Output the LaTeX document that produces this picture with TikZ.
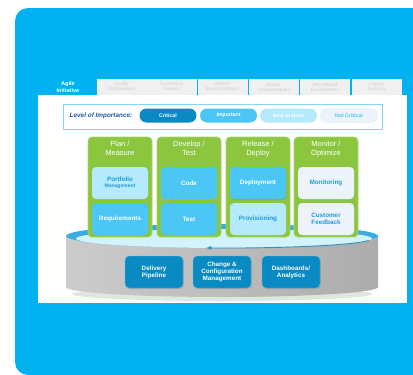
\documentclass[tikz,border=0pt]{standalone}
\usepackage{fontspec}
\setmainfont{Liberation Sans}
\usepackage{xcolor}
\usetikzlibrary{shadows,arrows.meta,positioning}

\definecolor{bgblue}{HTML}{00B2EF}
\definecolor{critblue}{HTML}{0A8AC2}
\definecolor{impblue}{HTML}{4CC6F5}
\definecolor{niceblue}{HTML}{B5E9FC}
\definecolor{notblue}{HTML}{EDF3FA}
\definecolor{txtblue}{HTML}{1E9AD8}
\definecolor{lvlblue}{HTML}{1F5C9E}
\definecolor{colgreen}{HTML}{8CC63F}
\definecolor{rimblue}{HTML}{3AABE0}
\definecolor{topcyan}{HTML}{D2F3FC}

\begin{document}
\begin{tikzpicture}[x=1pt,y=-1pt,>=latex,
   tabcell/.style={fill=gray!12,minimum width=50pt,minimum height=16pt,inner sep=0pt,
     align=center,text=gray!40,font=\fontsize{4.6}{5}\selectfont},
   pill/.style={rounded corners=7pt,minimum width=57pt,minimum height=14pt,inner sep=0pt,
     font=\bfseries\fontsize{5.2}{6}\selectfont},
   column/.style={fill=colgreen,draw=colgreen!75!white,line width=0.8pt,rounded corners=4pt,
     minimum width=64pt,minimum height=100pt},
   hdr/.style={text=white,align=center,font=\fontsize{7.5}{8.5}\selectfont},
   cell/.style={rounded corners=4pt,minimum width=56pt,minimum height=32pt,inner sep=1pt,
     align=center,font=\bfseries\fontsize{6.3}{7}\selectfont},
   impbox/.style={cell,fill=impblue,text=white},
   nicebox/.style={cell,fill=niceblue,text=txtblue},
   notbox/.style={cell,fill=notblue,text=txtblue},
   critbox/.style={cell,fill=critblue,text=white,minimum width=58pt,draw=critblue!60!white,
     drop shadow={opacity=0.35,shadow xshift=0.8pt,shadow yshift=-1pt}}]
  \useasboundingbox (0,0) rectangle (413,375);
  \fill[bgblue,rounded corners=13pt] (15,8) rectangle (440,375);
  \fill[white] (38,95) rectangle (407,303);

  \node[font=\bfseries\fontsize{5.6}{6.4}\selectfont,text=white,align=center] (agile) at (68,87) {Agile\\Initiative};
  \node[tabcell] (quality) at (121.5,87) {Quality\\Improvement};
  \node[tabcell] (contdel) at (171.5,87) {Continuous\\Delivery};
  \node[tabcell] (market) at (222.5,87) {Market\\Experimentation};
  \node[tabcell] (mobile) at (273.5,87) {Mobile\\Transformation};
  \node[tabcell] (swdef) at (325,87) {SW-Defined\\Environments};
  \node[tabcell] (legacy) at (376.5,87) {Legacy\\Systems};

  \node[fill=white,draw=impblue!70,line width=0.9pt,minimum width=319pt,minimum height=25pt,
    drop shadow={opacity=0.3,shadow xshift=1pt,shadow yshift=-1pt}] (legend) at (222.5,116.5) {};
  \node[text=lvlblue,font=\bfseries\itshape\fontsize{6.4}{7}\selectfont] (lvl) at (101,116) {Level of Importance:};
  \node[pill,fill=critblue,text=white] (crit) at (168,115.5) {Critical};
  \node[pill,fill=impblue,text=white] (imp) at (228.5,115.5) {Important};
  \node[pill,fill=niceblue,text=white] (nice) at (288.5,115.5) {Nice to Have};
  \node[pill,fill=notblue,draw=niceblue!60,text=impblue] (notc) at (349,115.5) {Not Critical};

  \fill[gray!22] (222,294) ellipse [x radius=150pt,y radius=7pt];
  \shade[left color=gray!40,middle color=white,right color=gray!65]
    (66,236) -- (66,287) arc[start angle=180,end angle=360,x radius=156pt,y radius=10pt]
    -- (378,236) arc[start angle=0,end angle=-180,x radius=156pt,y radius=12pt] -- cycle;
  \fill[rimblue] (222,236) ellipse [x radius=156pt,y radius=12pt];
  \fill[topcyan] (224,238.5) ellipse [x radius=148pt,y radius=9.5pt];
  \draw[->,rimblue!85!black,line width=0.9pt] (224,238.5) ++(-12:148pt and 9.5pt)
    arc[start angle=-12,end angle=-97,x radius=148pt,y radius=9.5pt];

  \node[column] (plan) at (120,187) {};
  \node[column] (dev) at (189,187) {};
  \node[column] (rel) at (258,187) {};
  \node[column] (mon) at (326,187) {};
  \node[hdr,below=1pt of plan.north] {Plan /\\Measure};
  \node[hdr,below=1pt of dev.north] {Develop /\\Test};
  \node[hdr,below=1pt of rel.north] {Release /\\Deploy};
  \node[hdr,below=1pt of mon.north] {Monitor /\\Optimize};

  \node[nicebox] (portf) at (120,183) {Portfolio\\[-1pt]{\fontsize{5}{6}\selectfont Management}};
  \node[impbox] (req) at (120,219) {Requirements};
  \node[impbox] (code) at (189,183) {Code};
  \node[impbox] (test) at (189,219) {Test};
  \node[impbox,drop shadow={opacity=0.35,shadow xshift=0.6pt,shadow yshift=-1pt}] (deploy) at (258,183) {Deployment};
  \node[nicebox] (prov) at (258,219) {Provisioning};
  \node[notbox] (monit) at (326,183) {Monitoring};
  \node[notbox] (cust) at (326,219) {Customer\\Feedback};

  \node[critbox] (pipe) at (154,272) {Delivery\\Pipeline};
  \node[critbox] (ccm) at (222,272) {Change \&\\Configuration\\Management};
  \node[critbox] (dash) at (291,272) {Dashboards/\\Analytics};
\end{tikzpicture}
\end{document}
